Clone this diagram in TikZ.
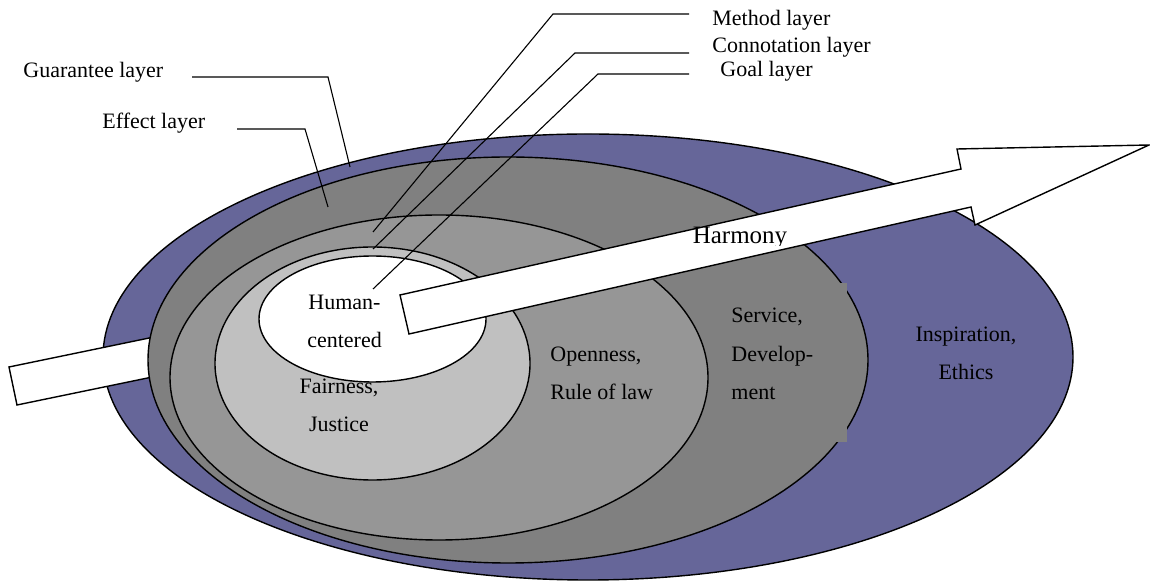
\documentclass[tikz,border=0pt]{standalone}
\usepackage{fontspec}
\setmainfont{Liberation Serif}
\usepackage{xcolor}
\usepackage{tikz}

\definecolor{guarcol}{RGB}{102,102,153}
\definecolor{effcol}{RGB}{128,128,128}
\definecolor{methcol}{RGB}{150,150,150}
\definecolor{conncol}{RGB}{192,192,192}

\begin{document}
\begin{tikzpicture}[x=0.5pt, y=-0.5pt,
    layer/.style={draw=black, line width=0.7pt},
    pointer/.style={draw=black, line width=0.55pt},
    lbl/.style={anchor=base west, inner sep=0pt, font=\fontsize{11}{13}\selectfont},
    inside/.style={anchor=base, inner sep=0pt, font=\fontsize{11}{19.3}\selectfont}]
    \useasboundingbox (0,0) rectangle (1150,581);

    \filldraw[layer, fill=guarcol] (588,357) ellipse [x radius=485, y radius=223];
    % tail of the arrow, behind the inner layers
    \filldraw[layer, fill=white] (9,367) -- (200,327.5) -- (208,365.5) -- (17,405) -- cycle;
    \filldraw[layer, fill=effcol] (508,360) ellipse [x radius=360, y radius=203];
    \filldraw[layer, fill=methcol] (439,377.5) ellipse [x radius=269, y radius=162.5];
    \filldraw[layer, fill=conncol] (372.5,363.5) ellipse [x radius=157.5, y radius=116.5];
    \filldraw[layer, fill=white] (372.5,319) ellipse [x radius=113.5, y radius=63];
    \fill[effcol] (725,283) rectangle (847,442);

    % base = baseline of the last line
    \node[inside, align=center] (human) at (344.5,348) {Human-\\centered};
    \node[inside, align=center] (fair) at (339,432) {Fairness,\\Justice};
    \node[inside, anchor=base west, align=left] (open) at (550,400) {Openness,\\Rule of law};
    \node[inside, anchor=base west, align=left] (serv) at (731,400) {Service,\\Develop-\\ment};
    \node[inside, align=center] (insp) at (966,380) {Inspiration,\\Ethics};

    % head of the arrow
    \filldraw[layer, fill=white] (400,295) -- (961,169) -- (957,149) -- (1149,145)
        -- (975,225) -- (971,207) -- (409,334) -- cycle;
    \begin{scope}
        \clip (680,210) rectangle (800,245.5);
        \node[inside, font=\fontsize{12.5}{14}\selectfont] (harm) at (740,244) {Harmony};
    \end{scope}

    % labels and pointers
    \node[lbl] (meth) at (712,26) {Method layer};
    \node[lbl] (conn) at (712,53) {Connotation layer};
    \node[lbl] (goal) at (720,77) {Goal layer};
    \node[lbl] (guar) at (23,78) {Guarantee layer};
    \node[lbl] (eff) at (102,129) {Effect layer};

    \coordinate (methS) at (689,14);
    \coordinate (methB) at (553,14);
    \coordinate (methE) at (373,232);
    \coordinate (connS) at (689,53);
    \coordinate (connB) at (575,53);
    \coordinate (connE) at (373,249);
    \coordinate (goalS) at (689,74);
    \coordinate (goalB) at (598,74);
    \coordinate (goalE) at (373,289);
    \coordinate (guarS) at (192,77);
    \coordinate (guarB) at (328,77);
    \coordinate (guarE) at (350,167);
    \coordinate (effS) at (237,129);
    \coordinate (effB) at (305,129);
    \coordinate (effE) at (328,207);

    \draw[pointer] (methS) -- (methB) -- (methE);
    \draw[pointer] (connS) -- (connB) -- (connE);
    \draw[pointer] (goalS) -- (goalB) -- (goalE);
    \draw[pointer] (guarS) -- (guarB) -- (guarE);
    \draw[pointer] (effS) -- (effB) -- (effE);
\end{tikzpicture}
\end{document}
